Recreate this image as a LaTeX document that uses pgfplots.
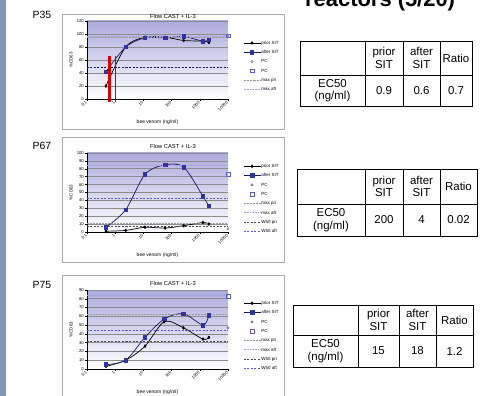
\documentclass[border=0pt]{standalone}
\usepackage{fontspec}
\setmainfont{Liberation Sans}
\usepackage{pgfplots}
\pgfplotsset{compat=1.18}
\definecolor{lav}{RGB}{172,172,222}
\definecolor{navyb}{RGB}{51,51,160}
\definecolor{navyl}{RGB}{25,25,100}
\definecolor{stripe}{RGB}{128,152,178}
\definecolor{boxgray}{RGB}{170,170,170}
\definecolor{wfiftyc}{RGB}{90,90,200}
\definecolor{maxaftc}{RGB}{160,160,220}

\tikzset{
  mysprior/.style={black, line width=0.7bp, smooth, mark=diamond*, mark size=1.3bp, mark options={solid, fill=black}},
  mysafter/.style={navyl, line width=0.7bp, smooth, mark=square*, mark size=1.8bp, mark options={solid, draw=navyb, fill=navyb}},
  myspcpri/.style={only marks, mark=o, mark size=1.2bp, black!70, mark options={line width=0.4bp}},
  myspcaft/.style={only marks, mark=square, mark size=1.8bp, mark options={draw=wfiftyc, fill=white, line width=0.5bp}},
  mysmaxpri/.style={black!40, line width=0.5bp, densely dotted},
  mysmaxaft/.style={maxaftc, line width=0.6bp, densely dotted},
  myswpri/.style={black!70, line width=0.8bp, dash pattern=on 2bp off 1.5bp},
  myswaft/.style={wfiftyc, line width=0.8bp, dash pattern=on 2bp off 1.5bp},
}

\begin{document}
\begin{tikzpicture}
\path[use as bounding box] (0,0) rectangle (484bp,396bp);
\clip (0,0) rectangle (484bp,396bp);

\begin{scope}[x=1bp,y=1bp]
  \fill[stripe] (0,0) rectangle (6,396);
  \draw[boxgray, line width=0.8bp] (62,382) rectangle (284,267);
  \draw[boxgray, line width=0.8bp] (62,259) rectangle (284,134);
  \draw[boxgray, line width=0.8bp] (62,121) rectangle (284,-5);
  \node[font=\fontsize{10.5}{12}\selectfont] at (42,381) {P35};
  \node[font=\fontsize{10.5}{12}\selectfont] at (42,250) {P67};
  \node[font=\fontsize{10.5}{12}\selectfont] at (42,111) {P75};
  \node[font=\fontsize{5.8}{7}\selectfont] at (173,380) {Flow CAST + IL-3};
  \node[font=\fontsize{5.8}{7}\selectfont] at (173,250) {Flow CAST + IL-3};
  \node[font=\fontsize{5.8}{7}\selectfont] at (173,113) {Flow CAST + IL-3};
  \node[font=\fontsize{22}{26}\selectfont\bfseries, anchor=base west, inner sep=0pt] at (305,389) {reactors (5/20)};
\end{scope}

% ---------- P35 ----------
\begin{axis}[at={(87bp,297bp)}, anchor=south west, height=78bp,
    scale only axis, width=141bp,
    xmode=log, xmin=0.1, xmax=10000,
    xtick={0.1,1,10,100,1000,10000},
    xticklabels={0.1,1,10,100,1000,10000},
    ymin=0, ymax=120, ytick={0,20,...,120}, clip=false,
    axis lines=left, axis line style={-, line width=0.6bp},
    axis background/.style={shade, top color=lav, bottom color=white},
    ymajorgrids, grid style={black!45, line width=0.6bp},
    tick style={black, line width=0.4bp},
    tick align=outside, major tick length=2bp, minor tick length=1.2bp,
    tick label style={font=\fontsize{4.2}{5}\selectfont, inner sep=1bp},
    xticklabel style={rotate=45, anchor=east},
    /pgf/number format/assume math mode=true,
    xlabel={bee venom (ng/ml)}, ylabel={\%CD63},
    xlabel style={font=\fontsize{5}{6}\selectfont, at={(axis description cs:0.5,0)}, anchor=center, yshift=-23bp},
    ylabel style={font=\fontsize{4.5}{5}\selectfont, at={(axis description cs:-0.113,0.5)}, anchor=center},
    legend style={at={(axis description cs:1.085,0.42)}, anchor=west, draw=none, fill=none,
      font=\fontsize{4.5}{5}\selectfont, row sep=3.8bp,
      nodes={inner sep=0.5bp, text height=3.5bp, text depth=1bp}},
    legend cell align=left]
\addplot[mysprior] coordinates {(0.47,20) (2.35,80) (11.4,95) (59,95) (270,90) (1300,89) (2100,87)};
\addlegendentry{prior SIT}
\addplot[mysafter] coordinates {(0.47,42) (2.35,80) (11.4,94) (59,94) (270,96) (1300,89) (2100,91)};
\addlegendentry{after SIT}
\addplot[myspcpri] coordinates {(10000,96)};
\addlegendentry{PC}
\addplot[myspcaft] coordinates {(10000,97)};
\addlegendentry{PC}
\addplot[mysmaxpri] coordinates {(0.1,95.5) (10000,95.5)};
\addlegendentry{max pri}
\addplot[mysmaxaft] coordinates {(0.1,97) (10000,97)};
\addlegendentry{max aft}
\addplot[navyl, line width=0.8bp, dash pattern=on 2bp off 1.5bp, forget plot] coordinates {(0.1,48.5) (10000,48.5)};
\addplot[red!85!black, line width=2.2bp, forget plot] coordinates {(0.63,-5) (0.63,66)};
\addplot[navyb, line width=0.8bp, forget plot] coordinates {(1.0,-5) (1.0,66)};
\end{axis}

% ---------- P67 ----------
\begin{axis}[at={(87bp,164bp)}, anchor=south west, height=79bp,
    scale only axis, width=141bp,
    xmode=log, xmin=0.1, xmax=10000,
    xtick={0.1,1,10,100,1000,10000},
    xticklabels={0.1,1,10,100,1000,10000},
    ymin=0, ymax=100, ytick={0,10,...,100},
    axis lines=left, axis line style={-, line width=0.6bp},
    axis background/.style={shade, top color=lav, bottom color=white},
    ymajorgrids, grid style={black!45, line width=0.6bp},
    tick style={black, line width=0.4bp},
    tick align=outside, major tick length=2bp, minor tick length=1.2bp,
    tick label style={font=\fontsize{4.2}{5}\selectfont, inner sep=1bp},
    xticklabel style={rotate=45, anchor=east},
    /pgf/number format/assume math mode=true,
    xlabel={bee venom (ng/ml)}, ylabel={\%CD63},
    xlabel style={font=\fontsize{5}{6}\selectfont, at={(axis description cs:0.5,0)}, anchor=center, yshift=-23bp},
    ylabel style={font=\fontsize{4.5}{5}\selectfont, at={(axis description cs:-0.113,0.5)}, anchor=center},
    legend style={at={(axis description cs:1.085,0.42)}, anchor=west, draw=none, fill=none,
      font=\fontsize{4.5}{5}\selectfont, row sep=3.8bp,
      nodes={inner sep=0.5bp, text height=3.5bp, text depth=1bp}},
    legend cell align=left]
\addplot[mysprior] coordinates {(0.47,1) (2.35,2) (11.4,6) (59,5) (270,8) (1300,12) (2100,10)};
\addlegendentry{prior SIT}
\addplot[mysafter] coordinates {(0.47,6) (2.35,28) (11.4,73) (59,85) (270,82) (1300,45) (2100,33)};
\addlegendentry{after SIT}
\addplot[myspcpri] coordinates {(10000,4)};
\addlegendentry{PC}
\addplot[myspcaft] coordinates {(10000,73)};
\addlegendentry{PC}
\addplot[mysmaxpri] coordinates {(0.1,11) (10000,11)};
\addlegendentry{max pri}
\addplot[mysmaxaft] coordinates {(0.1,85) (10000,85)};
\addlegendentry{max aft}
\addplot[myswpri] coordinates {(0.1,7) (10000,7)};
\addlegendentry{W50 pri}
\addplot[myswaft] coordinates {(0.1,43) (10000,43)};
\addlegendentry{W50 aft}
\end{axis}

% ---------- P75 ----------
\begin{axis}[at={(87bp,27bp)}, anchor=south west, height=79bp,
    scale only axis, width=141bp,
    xmode=log, xmin=0.1, xmax=10000,
    xtick={0.1,1,10,100,1000,10000},
    xticklabels={0.1,1,10,100,1000,10000},
    ymin=0, ymax=90, ytick={0,10,...,90},
    axis lines=left, axis line style={-, line width=0.6bp},
    axis background/.style={shade, top color=lav, bottom color=white},
    ymajorgrids, grid style={black!45, line width=0.6bp},
    tick style={black, line width=0.4bp},
    tick align=outside, major tick length=2bp, minor tick length=1.2bp,
    tick label style={font=\fontsize{4.2}{5}\selectfont, inner sep=1bp},
    xticklabel style={rotate=45, anchor=east},
    /pgf/number format/assume math mode=true,
    xlabel={bee venom (ng/ml)}, ylabel={\%CD63},
    xlabel style={font=\fontsize{5}{6}\selectfont, at={(axis description cs:0.5,0)}, anchor=center, yshift=-23bp},
    ylabel style={font=\fontsize{4.5}{5}\selectfont, at={(axis description cs:-0.113,0.5)}, anchor=center},
    legend style={at={(axis description cs:1.085,0.42)}, anchor=west, draw=none, fill=none,
      font=\fontsize{4.5}{5}\selectfont, row sep=3.8bp,
      nodes={inner sep=0.5bp, text height=3.5bp, text depth=1bp}},
    legend cell align=left]
\addplot[mysprior] coordinates {(0.47,3) (2.35,10) (11.4,26) (55,54) (260,47) (1300,34) (2100,36)};
\addlegendentry{prior SIT}
\addplot[mysafter] coordinates {(0.47,5) (2.35,10) (11.4,36) (55,57) (260,63) (1300,50) (2100,61)};
\addlegendentry{after SIT}
\addplot[myspcpri] coordinates {(10000,47)};
\addlegendentry{PC}
\addplot[myspcaft] coordinates {(10000,83)};
\addlegendentry{PC}
\addplot[mysmaxpri] coordinates {(0.1,62) (10000,62)};
\addlegendentry{max pri}
\addplot[mysmaxaft] coordinates {(0.1,83.5) (10000,83.5)};
\addlegendentry{max aft}
\addplot[myswpri] coordinates {(0.1,31) (10000,31)};
\addlegendentry{W50 pri}
\addplot[myswaft] coordinates {(0.1,44) (10000,44)};
\addlegendentry{W50 aft}
\end{axis}

% ---------- tables ----------
\begin{scope}[x=1bp,y=1bp, line width=0.8bp, every node/.style={font=\fontsize{11.5}{12.5}\selectfont, align=center, inner sep=0pt}]
  \draw (300,290) rectangle (472,355);
  \draw (300,321) -- (472,321);
  \foreach \xx in {365,403,440} \draw (\xx,290) -- (\xx,355);
  \node at (384,338) {prior\\SIT};
  \node at (421.5,338) {after\\SIT};
  \node at (456,338) {Ratio};
  \node at (332.5,305.5) {EC50\\(ng/ml)};
  \node at (384,305.5) {0.9};
  \node at (421.5,305.5) {0.6};
  \node at (456,305.5) {0.7};
  \draw (297,160) rectangle (477,227);
  \draw (297,192) -- (477,192);
  \foreach \xx in {365,403,440} \draw (\xx,160) -- (\xx,227);
  \node at (384,209.5) {prior\\SIT};
  \node at (421.5,209.5) {after\\SIT};
  \node at (458.5,209.5) {Ratio};
  \node at (331,176) {EC50\\(ng/ml)};
  \node at (384,176) {200};
  \node at (421.5,176) {4};
  \node at (458.5,176) {0.02};
  \draw (293,29) rectangle (473,91);
  \draw (293,61) -- (473,61);
  \foreach \xx in {358,399,436} \draw (\xx,29) -- (\xx,91);
  \node at (378.5,76) {prior\\SIT};
  \node at (417.5,76) {after\\SIT};
  \node at (454.5,76) {Ratio};
  \node at (325.5,45) {EC50\\(ng/ml)};
  \node at (378.5,45) {15};
  \node at (417.5,45) {18};
  \node at (454.5,45) {1.2};
\end{scope}
\end{tikzpicture}
\end{document}
